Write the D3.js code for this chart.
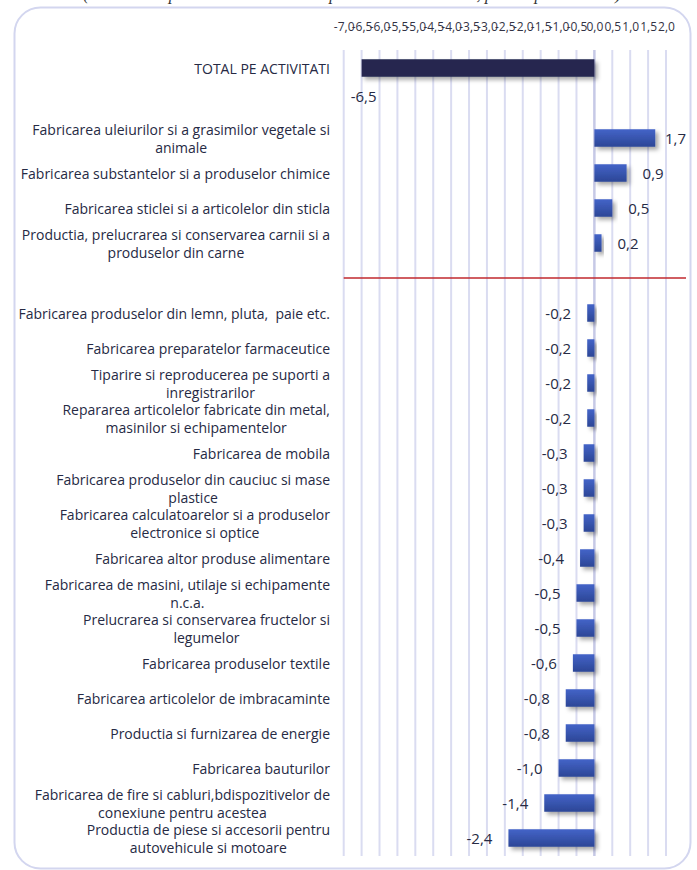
<!DOCTYPE html>
<html><head><meta charset="utf-8">
<script src="https://cdn.jsdelivr.net/npm/d3@7"></script>
<style>
body{margin:0;background:#fff}
svg{display:block}
text{white-space:pre}
</style>
</head><body>
<svg id="c" width="697" height="870"></svg>
<script>
// ---- data ----
const title = "(contributia pe activitati la variatia productiei industriale, puncte procentuale)";
const categories = [
  "TOTAL PE ACTIVITATI",
  "",
  "Fabricarea uleiurilor si a grasimilor vegetale si|animale",
  "Fabricarea substantelor si a produselor chimice",
  "Fabricarea sticlei si a articolelor din sticla",
  "Productia, prelucrarea si conservarea carnii si a|produselor din carne",
  "",
  "Fabricarea produselor din lemn, pluta,  paie etc.",
  "Fabricarea preparatelor farmaceutice",
  "Tiparire si reproducerea pe suporti a|inregistrarilor",
  "Repararea articolelor fabricate din metal,|masinilor si echipamentelor",
  "Fabricarea de mobila",
  "Fabricarea produselor din cauciuc si mase|plastice",
  "Fabricarea calculatoarelor si a produselor|electronice si optice",
  "Fabricarea altor produse alimentare",
  "Fabricarea de masini, utilaje si echipamente|n.c.a.",
  "Prelucrarea si conservarea fructelor si|legumelor",
  "Fabricarea produselor textile",
  "Fabricarea articolelor de imbracaminte",
  "Productia si furnizarea de energie",
  "Fabricarea bauturilor",
  "Fabricarea de fire si cabluri,bdispozitivelor de|conexiune pentru acestea",
  "Productia de piese si accesorii pentru|autovehicule si motoare"
];
const values = [
  -6.5, null, 1.7, 0.9, 0.5, 0.2, null,
  -0.2, -0.2, -0.2, -0.2, -0.3, -0.3, -0.3, -0.4, -0.5, -0.5, -0.6, -0.8, -0.8, -1.0, -1.4, -2.4
];
const tickValues = [-7.0,-6.5,-6.0,-5.5,-5.0,-4.5,-4.0,-3.5,-3.0,-2.5,-2.0,-1.5,-1.0,-0.5,0.0,0.5,1.0,1.5,2.0];

// ---- layout ----
const svg = d3.select("#c");
const FONT = "'Open Sans', 'Noto Sans', sans-serif";
const textColor = "#262a44";

const x = d3.scaleLinear().domain([-7, 2]).range([343.7, 666]);
const y = d3.scaleBand().domain(d3.range(categories.length))
  .range([50.5, 855.5]).paddingInner(0.5).paddingOuter(0.25);
const fmt = v => d3.format(".1f")(v).replace(".", ",").replace("−", "-");

const defs = svg.append("defs");
const grad = defs.append("linearGradient").attr("id", "barGrad")
  .attr("x1", 0).attr("y1", 0).attr("x2", 0).attr("y2", 1);
grad.append("stop").attr("offset", "0%").attr("stop-color", "#4464c8");
grad.append("stop").attr("offset", "100%").attr("stop-color", "#2c4696");
const filt = defs.append("filter").attr("id", "shadow")
  .attr("x", "-20%").attr("y", "-50%").attr("width", "150%").attr("height", "250%");
filt.append("feDropShadow").attr("dx", 3).attr("dy", 3).attr("stdDeviation", 2.2)
  .attr("flood-color", "#000").attr("flood-opacity", 0.35);

// clipped title at top (only its lower edge is visible, as in the reference)
svg.append("text").attr("x", 352).attr("y", 0).attr("text-anchor", "middle")
  .attr("font-family", "'Liberation Serif', serif").attr("font-style", "italic")
  .attr("font-size", 17).attr("fill", "#333").text(title);

// chart border
svg.append("rect").attr("x", 14.5).attr("y", 7.5).attr("width", 676).attr("height", 861)
  .attr("rx", 26).attr("ry", 26).attr("fill", "none")
  .attr("stroke", "#d3d6ef").attr("stroke-width", 2);

// gridlines
svg.append("g").selectAll("line").data(tickValues).join("line")
  .attr("x1", d => x(d)).attr("x2", d => x(d))
  .attr("y1", 50).attr("y2", 856)
  .attr("stroke", d => d === 0 ? "#c6c9e6" : "#dadcf1")
  .attr("stroke-width", d => d === 0 ? 2.5 : 2);

// top axis
const axis = svg.append("g").attr("transform", "translate(0,31)")
  .call(d3.axisTop(x).tickValues(tickValues).tickFormat(fmt).tickSize(0).tickPadding(0));
axis.select(".domain").remove();
axis.selectAll("text").attr("font-family", FONT).attr("font-size", 12)
  .attr("fill", "#333344").attr("dy", 0);

// separator line between positive and negative groups
const sepIdx = values.findIndex((v, i) => v === null && i > 0 && values[i - 1] > 0);
svg.append("line")
  .attr("x1", x(-7)).attr("x2", 686)
  .attr("y1", y(sepIdx) + y.bandwidth() / 2).attr("y2", y(sepIdx) + y.bandwidth() / 2)
  .attr("stroke", "#c0282e").attr("stroke-width", 1.5);

// bars
const rows = categories.map((c, i) => ({ c, v: values[i], i })).filter(d => d.v !== null);
svg.append("g").selectAll("rect").data(rows).join("rect")
  .attr("x", d => x(Math.min(0, d.v)))
  .attr("width", d => Math.abs(x(d.v) - x(0)))
  .attr("y", d => y(d.i)).attr("height", y.bandwidth())
  .attr("fill", d => d.i === 0 ? "#25284f" : "url(#barGrad)")
  .attr("filter", "url(#shadow)");

// category labels
const labelRight = 330;
const lg = svg.append("g");
rows.forEach(d => {
  const lines = d.c.split("|");
  const cy = y(d.i) + y.bandwidth() / 2;
  const lh = 18;
  const tmp = lines.map((ln, k) => lg.append("text")
    .attr("font-family", FONT).attr("font-size", 14).attr("fill", textColor)
    .attr("dominant-baseline", "central")
    .attr("y", cy + (k - (lines.length - 1) / 2) * lh).text(ln));
  const maxW = d3.max(tmp, t => t.node().getComputedTextLength());
  const cx = labelRight - maxW / 2;
  tmp.forEach(t => t.attr("x", cx).attr("text-anchor", "middle"));
});

// value labels
const vg = svg.append("g");
rows.forEach(d => {
  const cy = y(d.i) + y.bandwidth() / 2;
  const t = vg.append("text").attr("font-family", FONT).attr("font-size", 15)
    .attr("fill", textColor).attr("dominant-baseline", "central").text(fmt(d.v));
  const w = t.node().getComputedTextLength();
  const xe = x(d.v);
  if (d.v >= 0) {
    t.attr("x", Math.min(xe + 16, 686 - w)).attr("y", cy);
  } else if (xe - 16 - w < x(-7)) {
    t.attr("x", xe - w / 2 + 2).attr("y", cy + y.bandwidth() / 2 + 19);
  } else {
    t.attr("x", xe - 16 - w).attr("y", cy);
  }
});
</script>
</body></html>
